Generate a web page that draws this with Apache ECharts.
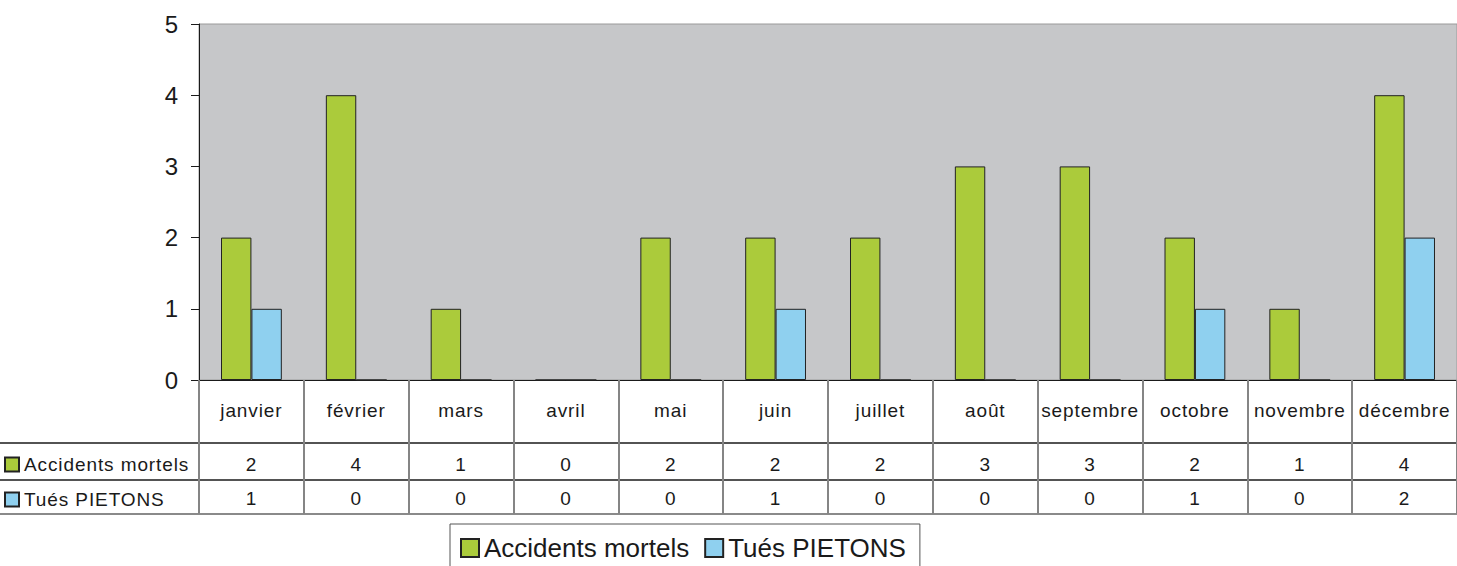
<!DOCTYPE html>
<html>
<head>
<meta charset="utf-8">
<script src="https://cdn.jsdelivr.net/npm/echarts@6/dist/echarts.min.js"></script>
<style>
html, body { margin: 0; padding: 0; background: #fff; }
#c { width: 1457px; height: 566px; }
#c text[style*="19px"] { letter-spacing: 0.9px; }
</style>
</head>
<body>
<div id="c"></div>
<script>
const months = ['janvier', 'février', 'mars', 'avril', 'mai', 'juin', 'juillet', 'août', 'septembre', 'octobre', 'novembre', 'décembre'];
const accidents = [2, 4, 1, 0, 2, 2, 2, 3, 3, 2, 1, 4];
const pietons = [1, 0, 0, 0, 0, 1, 0, 0, 0, 1, 0, 2];
const seriesNames = ['Accidents mortels', 'Tués PIETONS'];
const yTicks = [0, 1, 2, 3, 4, 5];

const FONT = 'Liberation Sans';
const INK = '#1a1a1a';
const TABLE_FS = 19;

const chart = echarts.init(document.getElementById('c'), null, { renderer: 'svg' });

function valueRowAxis(values, margin) {
  return {
    type: 'category',
    data: months,
    position: 'bottom',
    axisLine: { show: false },
    axisTick: { show: false },
    splitLine: { show: false },
    axisLabel: {
      interval: 0, margin: margin, fontSize: TABLE_FS, fontFamily: FONT, color: INK,
      formatter: function (v, i) { return String(values[i]); }
    }
  };
}

const option = {
  animation: false,
  backgroundColor: '#ffffff',
  grid: {
    left: 199, top: 24, right: 0, bottom: 186,
    show: true, backgroundColor: '#c6c7c9', borderColor: '#9a9a9a', borderWidth: 1
  },
  xAxis: [
    {
      type: 'category',
      data: months,
      boundaryGap: true,
      axisLine: { show: true, lineStyle: { color: INK, width: 1 } },
      axisTick: { show: true, interval: 0, length: 134, lineStyle: { color: '#858585', width: 2 } },
      axisLabel: { interval: 0, margin: 21, fontSize: TABLE_FS, fontFamily: FONT, color: INK },
      splitLine: { show: false }
    },
    valueRowAxis(accidents, 75),
    valueRowAxis(pietons, 109)
  ],
  yAxis: {
    type: 'value',
    min: yTicks[0],
    max: yTicks[yTicks.length - 1],
    interval: 1,
    axisLine: { show: true, lineStyle: { color: INK, width: 1 } },
    axisTick: { show: true, length: 8, lineStyle: { color: INK } },
    axisLabel: { margin: 21, fontSize: 24, fontFamily: FONT, color: INK },
    splitLine: { show: false }
  },
  legend: [
    {
      data: seriesNames,
      orient: 'horizontal',
      left: 450, top: 524,
      icon: 'rect',
      itemWidth: 18, itemHeight: 18, itemGap: 15,
      padding: [11, 14, 12, 10],
      borderColor: '#555', borderWidth: 1,
      selectedMode: false,
      textStyle: { fontSize: 26, fontFamily: FONT, color: INK }
    },
    {
      data: [seriesNames[0]],
      orient: 'vertical',
      left: 4, top: 455,
      icon: 'rect',
      itemWidth: 14, itemHeight: 14,
      padding: 0,
      selectedMode: false,
      textStyle: { fontSize: TABLE_FS, fontFamily: FONT, color: INK }
    },
    {
      data: [seriesNames[1]],
      orient: 'vertical',
      left: 4, top: 490,
      icon: 'rect',
      itemWidth: 14, itemHeight: 14,
      padding: 0,
      selectedMode: false,
      textStyle: { fontSize: TABLE_FS, fontFamily: FONT, color: INK }
    }
  ],
  series: [
    {
      name: seriesNames[0], type: 'bar', data: accidents,
      barGap: '0%', barCategoryGap: '42%',
      itemStyle: { color: '#abcb3b', borderColor: '#222', borderWidth: 1 }
    },
    {
      name: seriesNames[1], type: 'bar', data: pietons,
      itemStyle: { color: '#8fd0ef', borderColor: '#222', borderWidth: 1 }
    }
  ],
  graphic: [
    { type: 'line', shape: { x1: 0, y1: 443, x2: 1457, y2: 443 }, style: { stroke: INK, lineWidth: 1.5 } },
    { type: 'line', shape: { x1: 0, y1: 480, x2: 1457, y2: 480 }, style: { stroke: INK, lineWidth: 1.5 } },
    { type: 'line', shape: { x1: 0, y1: 514, x2: 1457, y2: 514 }, style: { stroke: '#8a8a8a', lineWidth: 2 } },
    { type: 'line', shape: { x1: 199, y1: 380, x2: 199, y2: 514 }, style: { stroke: INK, lineWidth: 1.5 } }
  ]
};

chart.setOption(option);
</script>
</body>
</html>
